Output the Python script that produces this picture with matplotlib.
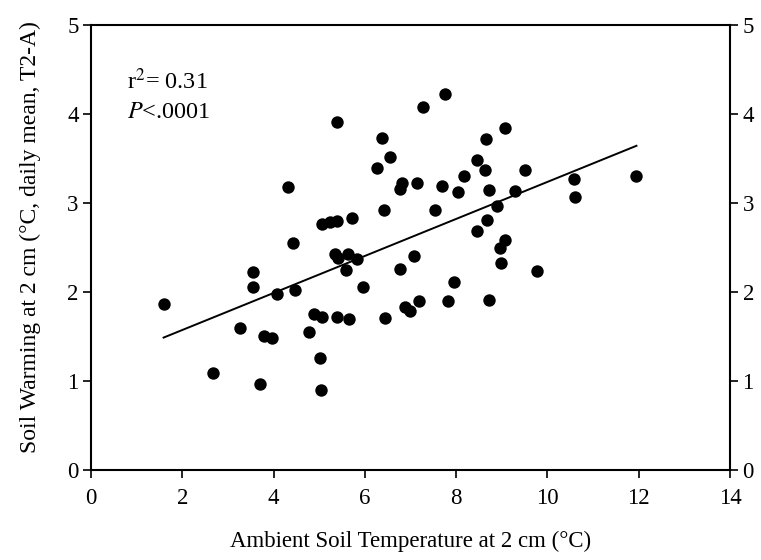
import numpy as np
import matplotlib
matplotlib.use("Agg")
import matplotlib.pyplot as plt

# ─── Data ────────────────────────────────────────────────────
ambient_temp = [1.59, 2.68, 3.27, 3.54, 3.55, 3.71, 3.80, 3.97, 4.08, 4.32,
                4.43, 4.46, 4.77, 4.89, 5.07, 5.02, 5.04, 5.07, 5.23, 5.39,
                5.72, 5.39, 5.35, 5.42, 5.38, 5.64, 5.59, 5.82, 5.66, 5.96,
                6.26, 6.38, 6.55, 6.42, 6.45, 6.78, 6.81, 6.77, 6.87, 6.98,
                7.07, 7.15, 7.18, 7.27, 7.53, 7.68, 7.75, 7.82, 7.95, 8.05,
                8.17, 8.45, 8.46, 8.64, 8.65, 8.68, 8.71, 8.73, 8.90, 8.95,
                8.99, 9.06, 9.08, 9.28, 9.50, 9.78, 10.59, 10.61, 11.95]
soil_warming = [1.87, 1.09, 1.60, 2.22, 2.06, 0.97, 1.51, 1.48, 1.98, 3.18,
                2.55, 2.02, 1.55, 1.75, 1.72, 1.26, 0.90, 2.76, 2.79, 2.80,
                2.83, 3.91, 2.43, 2.38, 1.72, 2.43, 2.25, 2.37, 1.70, 2.06,
                3.39, 3.73, 3.52, 2.92, 1.71, 2.26, 3.22, 3.16, 1.83, 1.79,
                2.40, 3.22, 1.90, 4.08, 2.92, 3.19, 4.23, 1.90, 2.11, 3.12,
                3.30, 2.69, 3.48, 3.37, 3.72, 2.81, 1.91, 3.15, 2.97, 2.49,
                2.33, 3.84, 2.58, 3.13, 3.37, 2.24, 3.27, 3.07, 3.30]

fit_slope = 0.208
fit_intercept = 1.157
x_ticks = [0, 2, 4, 6, 8, 10, 12, 14]
y_ticks = [0, 1, 2, 3, 4, 5]

# ─── Figure ──────────────────────────────────────────────────
plt.rcParams['font.family'] = ['Liberation Serif', 'DejaVu Serif']
plt.rcParams['mathtext.fontset'] = 'stix'

fig = plt.figure(figsize=(7.61, 5.60), dpi=100)
ax = fig.add_axes([0.1196, 0.1607, 0.8397, 0.7947])

ax.scatter(ambient_temp, soil_warming, s=80, color='black', zorder=3, linewidths=0)

fx = np.array([min(ambient_temp), max(ambient_temp)])
ax.plot(fx, fit_intercept + fit_slope * fx, color='black', lw=1.4)

ax.set_xlim(0, 14)
ax.set_ylim(0, 5)
ax.set_xticks(x_ticks)
ax.set_yticks(y_ticks)
ax.tick_params(axis='x', direction='out', length=6, width=1.2, labelsize=16.5, pad=7)
ax.tick_params(axis='y', direction='out', length=6, width=1.2, labelsize=16.5,
               right=True, labelright=True, pad=3)
for s in ax.spines.values():
    s.set_linewidth(1.5)

ax.set_xlabel('Ambient Soil Temperature at 2 cm (°C)', fontsize=16.5, labelpad=16)
ax.set_ylabel('Soil Warming at 2 cm (°C, daily mean, T2-A)', fontsize=17,
              labelpad=19, y=0.524)

ax.text(0.057, 0.855, r'r$^{2}$= 0.31', transform=ax.transAxes, fontsize=17.5)
ax.text(0.057, 0.792, r'$P$<.0001', transform=ax.transAxes, fontsize=17.5)

fig.savefig('out.png', dpi=100)
